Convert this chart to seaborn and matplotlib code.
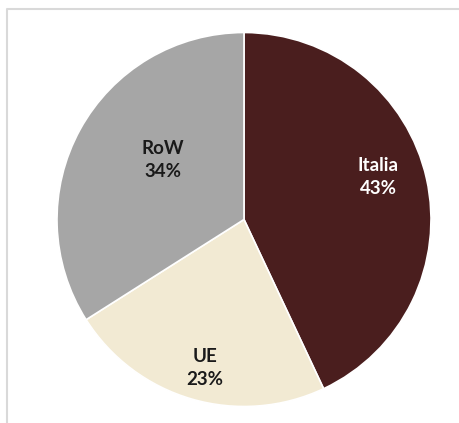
import matplotlib
matplotlib.use("Agg")
import matplotlib.pyplot as plt
import seaborn as sns
from matplotlib.lines import Line2D

sns.set_theme(style="white")
plt.rcParams['font.family'] = ['Lato', 'DejaVu Sans']

categories = ["Italia", "UE", "RoW"]
values = [43, 23, 34]
colors = ["#4A1E1E", "#F2EAD3", "#A6A6A6"]
text_colors = ["white", "#1a1a1a", "#1a1a1a"]
label_pos = [(0.717, 0.227), (-0.209, -0.794), (-0.433, 0.318)]

W, H = 460, 423
fig = plt.figure(figsize=(W / 100, H / 100), dpi=100)
fig.patch.set_facecolor("white")

# frame (left and top border only visible)
fig.add_artist(Line2D([7.5 / W, 7.5 / W, 1.0], [0.0, (H - 9) / H, (H - 9) / H],
                      transform=fig.transFigure, color="#D9D9D9", lw=1.5))

cx, cy, r = 244, 219.5, 187
ax = fig.add_axes([(cx - r) / W, (H - cy - r) / H, 2 * r / W, 2 * r / H])
ax.pie(values, colors=colors, startangle=90, counterclock=False,
       wedgeprops=dict(edgecolor="white", linewidth=1.2), radius=1)
ax.set_xlim(-1, 1)
ax.set_ylim(-1, 1)
ax.set_aspect("equal")
ax.axis("off")

for cat, v, tc, (x, y) in zip(categories, values, text_colors, label_pos):
    ax.text(x, y, f"{cat}\n{v}%", ha="center", va="center", color=tc,
            fontsize=13.5, fontweight="bold", linespacing=1.4)

fig.savefig("out.png", dpi=100, facecolor="white")
